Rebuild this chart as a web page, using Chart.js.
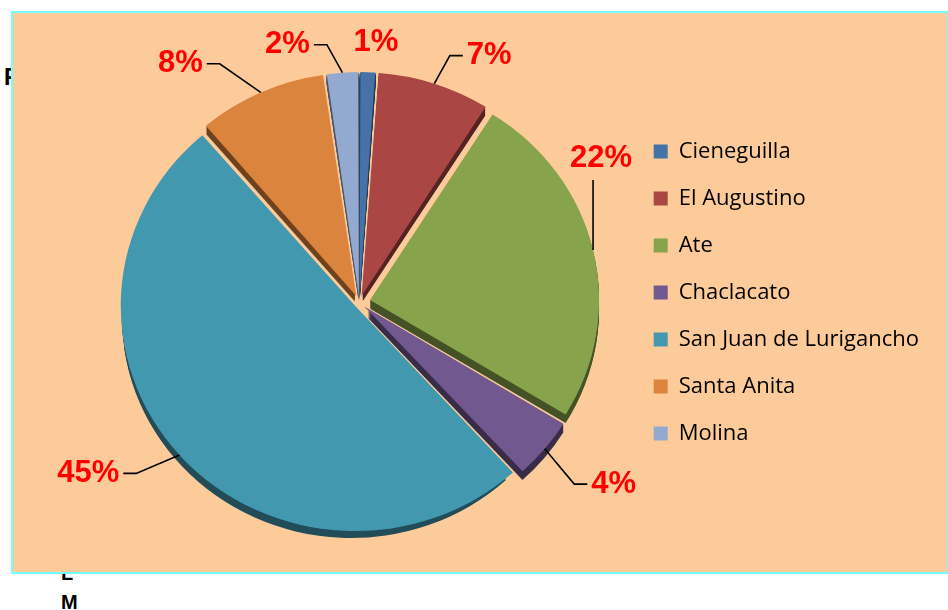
<!DOCTYPE html>
<html>
<head>
<meta charset="utf-8">
<script src="https://cdn.jsdelivr.net/npm/chart.js@4.4.1/dist/chart.umd.min.js"></script>
<style>
  body { margin: 0; width: 948px; height: 610px; background: #fff; position: relative; overflow: hidden; font-family: "Liberation Sans", Arial, sans-serif; }
  .stray { position: absolute; font-weight: bold; color: #000; font-size: 20px; z-index: 1; }
  #box { position: absolute; left: 11px; top: 11px; width: 934px; height: 559px; background: #FDCB99; border: 2px solid #74FFFF; z-index: 2; }
</style>
</head>
<body>
<div class="stray" style="left:4px;top:64px;font-size:23px">F</div>
<div class="stray" style="left:61px;top:562px">L</div>
<div class="stray" style="left:61px;top:591px">M</div>
<div id="box"><canvas id="pie"></canvas></div>
<script>
const districts = ['Cieneguilla', 'El Augustino', 'Ate', 'Chaclacato', 'San Juan de Lurigancho', 'Santa Anita', 'Molina'];
const shares = [1, 7, 22, 4, 45, 8, 2];
const pctLabels = ['1%', '7%', '22%', '4%', '45%', '8%', '2%'];
const sliceColors = ['#4572A7', '#AA4643', '#87A44C', '#71588F', '#4198AF', '#DB843D', '#93A9CF'];

// leader line direction (degrees clockwise from up) and length for each label
const leaderDir = [0, 29, 0, 140, 247, 305, 331];
const leaderLen = [0, 32, 70, 46, 47, 50, 32];

const explode = 11;   // px each slice is pulled out
const depth = 9;      // px of the 3d side
const tilt = 0.96;    // pie is a little squashed vertically
const dropY = 10;     // pie sits a bit lower than the legend centre
const total = shares.reduce((a, b) => a + b, 0);

// chart.js moves an arc by offset/4*(1+fix), undo that so every slice moves the same
function offsetFor(i) {
    const circ = 2 * Math.PI * shares[i] / total;
    const fix = 1 - Math.sin(Math.min(Math.PI, circ));
    return explode / ((1 + fix) / 4);
}

function shade(hex, f) {
    const n = parseInt(hex.slice(1), 16);
    const r = Math.round(((n >> 16) & 255) * f);
    const g = Math.round(((n >> 8) & 255) * f);
    const b = Math.round((n & 255) * f);
    return `rgb(${r},${g},${b})`;
}

function arcCenter(arc) {
    const p = arc.getProps(['x', 'y', 'startAngle', 'endAngle', 'outerRadius']);
    const mid = (p.startAngle + p.endAngle) / 2;
    return {
        x0: p.x, y0: p.y,
        cx: p.x + explode * Math.cos(mid),
        cy: p.y + explode * Math.sin(mid),
        mid: mid, r: p.outerRadius, start: p.startAngle, end: p.endAngle
    };
}

const pie3d = {
    id: 'pie3d',
    beforeDatasetsDraw(chart) {
        const ctx = chart.ctx;
        const meta = chart.getDatasetMeta(0);
        const c = meta.data[0];
        ctx.save();
        // squash and lower the pie
        ctx.translate(c.x, c.y + dropY);
        ctx.scale(1, tilt);
        ctx.translate(-c.x, -c.y);
        meta.data.forEach((arc, i) => {
            const a = arcCenter(arc);
            ctx.fillStyle = shade(sliceColors[i], 0.5);
            for (let d = 1; d <= depth; d++) {
                ctx.beginPath();
                ctx.moveTo(a.cx, a.cy + d);
                ctx.arc(a.cx, a.cy + d, a.r, a.start, a.end);
                ctx.closePath();
                ctx.fill();
            }
        });
    },
    afterDatasetsDraw(chart) {
        const ctx = chart.ctx;
        ctx.restore();
        chart.getDatasetMeta(0).data.forEach((arc, i) => {
            const a = arcCenter(arc);
            const ax = a.cx + a.r * Math.cos(a.mid);
            const ay = a.y0 + dropY + (a.cy + a.r * Math.sin(a.mid) - a.y0) * tilt;
            const t = leaderDir[i] * Math.PI / 180;
            const ux = Math.sin(t), uy = -Math.cos(t);
            const ex = ax + ux * leaderLen[i];
            const ey = ay + uy * leaderLen[i];
            ctx.save();
            ctx.strokeStyle = '#000';
            ctx.lineWidth = 1.6;
            ctx.fillStyle = '#FF0000';
            ctx.font = 'bold 31px "Liberation Sans", Arial, sans-serif';
            ctx.textBaseline = 'middle';
            ctx.beginPath();
            ctx.moveTo(ax, ay);
            ctx.lineTo(ex, ey);
            if (Math.abs(ux) > 0.3) {
                const side = ux > 0 ? 1 : -1;
                ctx.lineTo(ex + side * 13, ey);
                ctx.stroke();
                ctx.textAlign = side > 0 ? 'left' : 'right';
                ctx.fillText(pctLabels[i], ex + side * 17, ey);
            } else if (leaderLen[i] > 0) {
                ctx.stroke();
                ctx.textAlign = 'center';
                ctx.fillText(pctLabels[i], ex + 8, ey - 22);
            } else {
                // tiny slice: label straight above it, no leader
                ctx.textAlign = 'center';
                ctx.fillText(pctLabels[i], ex + 8, ey - 30);
            }
            ctx.restore();
        });
    }
};

new Chart(document.getElementById('pie'), {
    type: 'pie',
    data: {
        labels: districts,
        datasets: [{
            data: shares,
            backgroundColor: sliceColors,
            borderWidth: 0,
            offset: shares.map((v, i) => offsetFor(i)),
            radius: 229
        }]
    },
    options: {
        responsive: true,
        maintainAspectRatio: false,
        animation: false,
        layout: { padding: { left: 77, top: 0, right: 18, bottom: 0 } },
        plugins: {
            legend: {
                position: 'right',
                labels: {
                    boxWidth: 14,
                    boxHeight: 14,
                    padding: 25,
                    color: '#000',
                    font: { family: "'Open Sans', sans-serif", size: 22 }
                }
            },
            tooltip: { enabled: false }
        }
    },
    plugins: [pie3d]
});
</script>
</body>
</html>
